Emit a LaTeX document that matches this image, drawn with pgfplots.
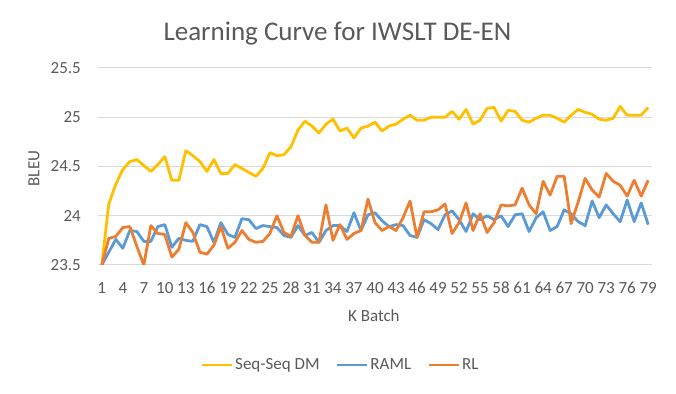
\documentclass[border=0pt]{standalone}
\usepackage{pgfplots}
\pgfplotsset{compat=1.18}
\usepackage{fontspec}
\setmainfont{Carlito}
\definecolor{txt}{HTML}{595959}
\definecolor{grd}{HTML}{D9D9D9}
\definecolor{cy}{HTML}{FFC000}
\definecolor{cb}{HTML}{5B9BD5}
\definecolor{co}{HTML}{ED7D31}
\pgfplotstableread{
x y
1 23.50
2 24.12
3 24.32
4 24.47
5 24.55
6 24.57
7 24.51
8 24.45
9 24.52
10 24.60
11 24.36
12 24.36
13 24.66
14 24.61
15 24.55
16 24.45
17 24.57
18 24.43
19 24.43
20 24.52
21 24.48
22 24.44
23 24.40
24 24.48
25 24.64
26 24.61
27 24.62
28 24.70
29 24.87
30 24.96
31 24.91
32 24.84
33 24.93
34 24.98
35 24.86
36 24.89
37 24.79
38 24.89
39 24.91
40 24.95
41 24.86
42 24.91
43 24.93
44 24.98
45 25.02
46 24.97
47 24.97
48 25.00
49 25.00
50 25.00
51 25.06
52 24.98
53 25.08
54 24.93
55 24.97
56 25.09
57 25.10
58 24.96
59 25.07
60 25.06
61 24.97
62 24.95
63 24.99
64 25.02
65 25.02
66 24.99
67 24.95
68 25.02
69 25.08
70 25.05
71 25.03
72 24.98
73 24.97
74 24.99
75 25.11
76 25.02
77 25.02
78 25.02
79 25.10
}\seqdm
\pgfplotstableread{
x y
1 23.50
2 23.63
3 23.76
4 23.67
5 23.85
6 23.84
7 23.74
8 23.74
9 23.89
10 23.91
11 23.68
12 23.77
13 23.75
14 23.74
15 23.91
16 23.89
17 23.73
18 23.93
19 23.81
20 23.78
21 23.97
22 23.96
23 23.87
24 23.90
25 23.89
26 23.88
27 23.80
28 23.78
29 23.90
30 23.80
31 23.83
32 23.73
33 23.85
34 23.90
35 23.90
36 23.84
37 24.03
38 23.85
39 24.01
40 24.03
41 23.95
42 23.89
43 23.91
44 23.90
45 23.80
46 23.78
47 23.96
48 23.92
49 23.86
50 24.01
51 24.05
52 23.96
53 23.84
54 24.02
55 23.96
56 24.00
57 23.96
58 24.00
59 23.89
60 24.01
61 24.02
62 23.84
63 23.98
64 24.04
65 23.85
66 23.89
67 24.06
68 24.02
69 23.94
70 23.90
71 24.15
72 23.98
73 24.11
74 24.02
75 23.94
76 24.16
77 23.94
78 24.13
79 23.91
}\raml
\pgfplotstableread{
x y
1 23.50
2 23.77
3 23.79
4 23.88
5 23.89
6 23.69
7 23.50
8 23.90
9 23.82
10 23.81
11 23.58
12 23.66
13 23.93
14 23.83
15 23.63
16 23.61
17 23.70
18 23.89
19 23.67
20 23.73
21 23.85
22 23.76
23 23.73
24 23.74
25 23.82
26 24.00
27 23.83
28 23.79
29 24.00
30 23.80
31 23.73
32 23.73
33 24.11
34 23.75
35 23.91
36 23.76
37 23.82
38 23.85
39 24.17
40 23.93
41 23.85
42 23.89
43 23.85
44 23.98
45 24.15
46 23.78
47 24.04
48 24.04
49 24.06
50 24.12
51 23.82
52 23.93
53 24.13
54 23.85
55 24.02
56 23.83
57 23.93
58 24.11
59 24.10
60 24.11
61 24.28
62 24.11
63 24.02
64 24.35
65 24.21
66 24.40
67 24.40
68 23.92
69 24.14
70 24.38
71 24.26
72 24.19
73 24.43
74 24.35
75 24.31
76 24.20
77 24.36
78 24.20
79 24.36
}\rl
\begin{document}
\begin{tikzpicture}
\path[use as bounding box] (0,0) rectangle (676pt,393pt);
\begin{axis}[
  at={(98.3pt,128pt)}, anchor=south west,
  scale only axis, width=553.4pt, height=197pt,
  xmin=0.5, xmax=79.5, ymin=23.5, ymax=25.5,
  xtick={1,4,...,79},
  xticklabels={1,4,7,10,13,16,19,22,25,28,31,34,37,40,43,46,49,52,55,58,61,64,67,70,73,76,79},
  ytick={23.5,24,24.5,25,25.5},
  yticklabels={23.5,24,24.5,25,25.5},
  major tick length=0pt,
  axis line style={draw=none},
  ymajorgrids, grid style={grd, line width=1pt},
  ticklabel style={font=\fontsize{17}{20}\selectfont, text=txt},
  xticklabel style={anchor=base, yshift=-28pt, inner sep=0pt},
  yticklabel style={anchor=east, xshift=-17.3pt, inner sep=0pt},
  title={Learning Curve for IWSLT DE-EN},
  title style={at={(axis description cs:0.432,1)}, anchor=base, yshift=21.3pt, inner sep=0pt, font=\fontsize{27}{32}\selectfont, text=txt},
  xlabel={K Batch},
  xlabel style={at={(axis description cs:0.498,0)}, anchor=center, yshift=-51pt, inner sep=0pt, font=\fontsize{17}{20}\selectfont, text=txt},
  ylabel={BLEU},
  ylabel style={at={(axis description cs:-0.1162,0.49)}, anchor=center, inner sep=0pt, font=\fontsize{17}{20}\selectfont, text=txt},
  legend columns=3,
  legend style={at={(axis description cs:0.4375,0)}, anchor=center, yshift=-100pt, draw=none, fill=none,
    font=\fontsize{17}{20}\selectfont, text=txt,
    /tikz/every even column/.append style={column sep=14pt}},
  legend image code/.code={\draw[#1] (0pt,0pt) -- (30pt,0pt);},
  every axis plot/.append style={line width=2.8pt, line join=round, mark=none},
]
\addplot[cy] table[x=x,y=y] {\seqdm};
\addlegendentry{Seq-Seq DM}
\addplot[cb] table[x=x,y=y] {\raml};
\addlegendentry{RAML}
\addplot[co] table[x=x,y=y] {\rl};
\addlegendentry{RL}
\end{axis}
\end{tikzpicture}
\end{document}
